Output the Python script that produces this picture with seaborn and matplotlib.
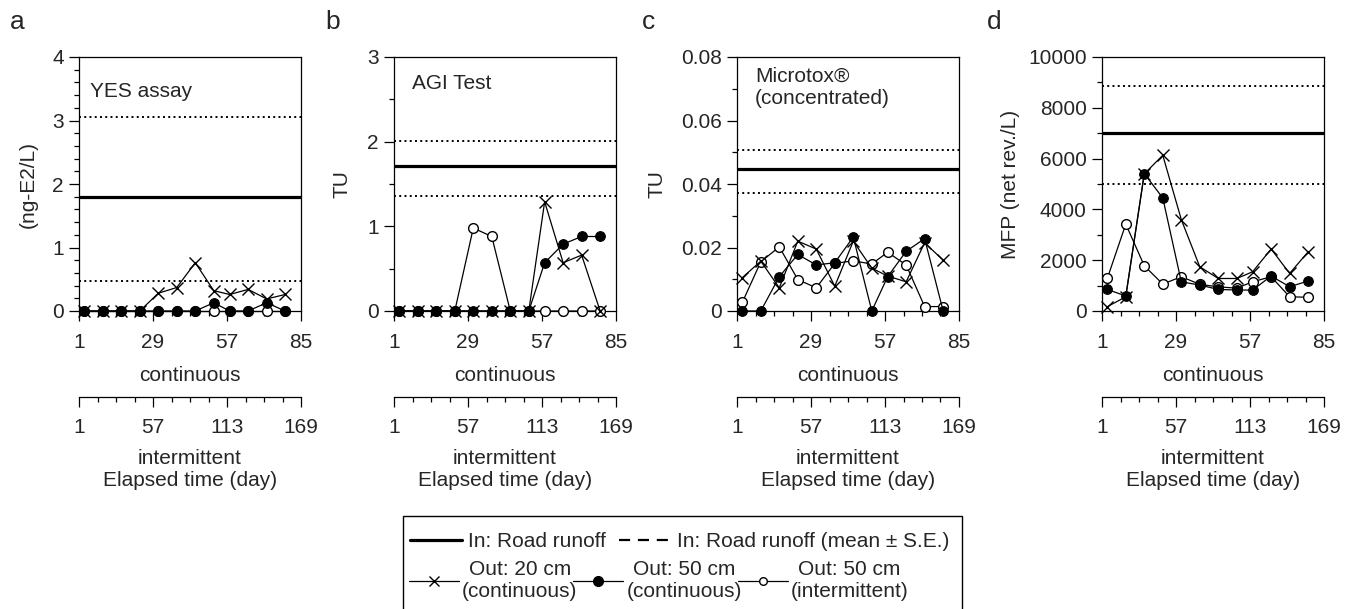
import matplotlib
matplotlib.use('Agg')
import matplotlib.pyplot as plt
from matplotlib.lines import Line2D
from matplotlib.patches import Rectangle
from matplotlib.ticker import FixedLocator, MultipleLocator, FuncFormatter
import seaborn as sns

sns.set_style("ticks")
plt.rcParams['font.family'] = ['Liberation Sans', 'DejaVu Sans']
plt.rcParams['font.size'] = 15

# sampling days (continuous scale)
days = [3, 10, 17, 24, 31, 38, 45, 52, 58, 65, 72, 79]

# a: YES assay (ng-E2/L)
yes_in = [1.79, 3.05, 0.47]          # mean, mean+SE, mean-SE
yes_20c = [0, 0, 0, 0, 0.28, 0.37, 0.76, 0.32, 0.26, 0.34, 0.19, 0.26]
yes_50c = [0, 0, 0, 0, 0, 0, 0, 0.13, 0, 0, 0.13, 0]
yes_50i = [0, 0, 0, 0, 0, 0, 0, 0, 0, 0, 0, 0]

# b: AGI test (TU)
agi_in = [1.71, 2.01, 1.36]
agi_20c = [0, 0, 0, 0, 0, 0, 0, 0, 1.29, 0.57, 0.66, 0]
agi_50c = [0, 0, 0, 0, 0, 0, 0, 0, 0.57, 0.79, 0.88, 0.88]
agi_50i = [0, 0, 0, 0, 0.98, 0.88, 0, 0, 0, 0, 0, 0]

# c: Microtox concentrated (TU)
mtx_in = [0.0447, 0.0508, 0.0373]
mtx_20c = [0.0105, 0.0157, 0.0073, 0.022, 0.0195, 0.0078, 0.022, 0.0135, 0.011, 0.0092, 0.0215, 0.016]
mtx_50c = [0, 0, 0.0108, 0.0178, 0.0145, 0.0152, 0.0233, 0, 0.0108, 0.0188, 0.0228, 0]
mtx_50i = [0.0027, 0.0155, 0.0202, 0.0099, 0.0073, 0.015, 0.0158, 0.0148, 0.0185, 0.0145, 0.0014, 0.0014]

# d: MFP (net rev./L)
mfp_in = [7000, 8850, 5000]
mfp_20c = [170, 560, 5400, 6130, 3600, 1740, 1280, 1280, 1545, 2440, 1480, 2330]
mfp_50c = [850, 590, 5410, 4450, 1150, 1020, 850, 825, 825, 1375, 955, 1180]
mfp_50i = [1280, 3420, 1780, 1060, 1350, 1050, 950, 900, 1150, 1350, 560, 540]

panels = [
    dict(letter='a', title='YES assay', tx=0.05, ty=0.865, ylabel='(ng-E2/L)', ymax=4, major=1, minor=0.2,
         ypad=10, inflow=yes_in, s20c=yes_20c, s50c=yes_50c, s50i=yes_50i),
    dict(letter='b', title='AGI Test', tx=0.08, ty=0.895, ylabel='TU', ymax=3, major=1, minor=0.5,
         ypad=11, inflow=agi_in, s20c=agi_20c, s50c=agi_50c, s50i=agi_50i),
    dict(letter='c', title='Microtox®\n(concentrated)', tx=0.08, ty=0.88, ylabel='TU', ymax=0.08, major=0.02,
         minor=0.01, ypad=10, inflow=mtx_in, s20c=mtx_20c, s50c=mtx_50c, s50i=mtx_50i),
    dict(letter='d', title='', tx=0, ty=0, ylabel='MFP (net rev./L)', ymax=10000, major=2000, minor=1000,
         ypad=6, inflow=mfp_in, s20c=mfp_20c, s50c=mfp_50c, s50i=mfp_50i),
]

W, H = 1353, 609
fig = plt.figure(figsize=(W / 100, H / 100), dpi=100)

lefts = [79, 394, 737, 1102]
letter_x = [10, 325, 642, 987]
ax_w, ax_top, ax_bot = 222, 57, 311


def cont_to_int(x):
    return 2 * x - 1


def int_to_cont(x):
    return (x + 1) / 2


fmt = FuncFormatter(lambda v, p: '0' if abs(v) < 1e-12 else f'{v:g}')

for p, left, lx in zip(panels, lefts, letter_x):
    ax = fig.add_axes([left / W, 1 - ax_bot / H, ax_w / W, (ax_bot - ax_top) / H])
    mean, hi, lo = p['inflow']
    ax.axhline(mean, color='k', lw=2.3, zorder=2)
    ax.axhline(hi, color='k', lw=1.4, ls=(0, (1, 1.7)), zorder=2)
    ax.axhline(lo, color='k', lw=1.4, ls=(0, (1, 1.7)), zorder=2)

    sns.lineplot(x=days, y=p['s50i'], ax=ax, color='k', lw=0.9, marker='o', ms=7,
                 markerfacecolor='white', markeredgecolor='k', markeredgewidth=1.0,
                 clip_on=False, zorder=3)
    sns.lineplot(x=days, y=p['s20c'], ax=ax, color='k', lw=0.9, marker='x', ms=8,
                 markeredgecolor='k', markeredgewidth=1.0, clip_on=False, zorder=4)
    sns.lineplot(x=days, y=p['s50c'], ax=ax, color='k', lw=0.9, marker='o', ms=7,
                 markerfacecolor='k', markeredgecolor='k', clip_on=False, zorder=5)

    ax.set_xlim(1, 85)
    ax.set_ylim(0, p['ymax'])
    ax.set_xticks([1, 29, 57, 85])
    ax.xaxis.set_minor_locator(FixedLocator(range(1, 86, 7)))
    ax.yaxis.set_major_locator(MultipleLocator(p['major']))
    ax.yaxis.set_minor_locator(MultipleLocator(p['minor']))
    ax.yaxis.set_major_formatter(fmt)
    ax.tick_params(which='major', length=7, width=0.9, color='k', labelsize=15)
    ax.tick_params(which='minor', length=3.5, width=0.9, color='k')
    ax.tick_params(axis='x', pad=9)
    ax.tick_params(axis='y', pad=4)
    for s in ax.spines.values():
        s.set_color('k')
        s.set_linewidth(0.9)
    ax.set_xlabel('continuous', fontsize=15, labelpad=10)
    ax.set_ylabel(p['ylabel'], fontsize=15, labelpad=p['ypad'])
    if p['title']:
        ax.text(p['tx'], p['ty'], p['title'], transform=ax.transAxes, fontsize=15,
                ha='left', va='center', linespacing=1.25)

    # second time axis for the intermittent column (2 days per continuous day)
    sec = ax.secondary_xaxis(-0.339, functions=(cont_to_int, int_to_cont))
    sec.set_xticks([1, 57, 113, 169])
    sec.xaxis.set_minor_locator(FixedLocator(range(1, 170, 14)))
    sec.tick_params(which='major', length=7, width=0.9, color='k', labelsize=15, pad=8)
    sec.tick_params(which='minor', length=3.5, width=0.9, color='k')
    sec.spines['bottom'].set_linewidth(0.9)
    sec.spines['bottom'].set_color('k')
    sec.set_xlabel('intermittent\nElapsed time (day)', fontsize=15, labelpad=9, linespacing=1.15)

    fig.text(lx / W, 1 - 22 / H, p['letter'], fontsize=19, ha='left', va='center')

# legend box (open at the bottom edge)
fig.add_artist(Rectangle((403 / W, -0.01), 559 / W, 0.01 + 1 - 516 / H, transform=fig.transFigure,
                         fill=False, edgecolor='k', lw=1.0, clip_on=False))

row1 = [Line2D([], [], color='k', lw=2.3),
        Line2D([], [], color='k', lw=1.6, ls=(0, (5, 3.5)))]
fig.legend(row1, ['In: Road runoff', 'In: Road runoff (mean ± S.E.)'], ncol=2, frameon=False,
           loc='upper left', bbox_to_anchor=(410 / W, 1 - 532 / H), borderaxespad=0, borderpad=0,
           handlelength=2.5, handletextpad=0.3, columnspacing=0.6, fontsize=15)

row2 = [Line2D([], [], color='k', lw=0.9, marker='x', ms=7, mew=1.0),
        Line2D([], [], color='k', lw=0.9, marker='o', ms=7, mfc='k', mec='k'),
        Line2D([], [], color='k', lw=0.9, marker='o', ms=5.5, mfc='white', mec='k', mew=1.0)]
leg2 = fig.legend(row2, ['Out: 20 cm\n(continuous)', 'Out: 50 cm\n(continuous)', 'Out: 50 cm\n(intermittent)'],
                  ncol=3, frameon=False, loc='upper left', bbox_to_anchor=(409 / W, 1 - 560 / H),
                  borderaxespad=0, borderpad=0, handlelength=2.4, handletextpad=0.15, columnspacing=-0.2,
                  fontsize=15)
for t in leg2.get_texts():
    t.set_multialignment('center')
    t.set_linespacing(1.2)

fig.savefig('out.png', dpi=100)
